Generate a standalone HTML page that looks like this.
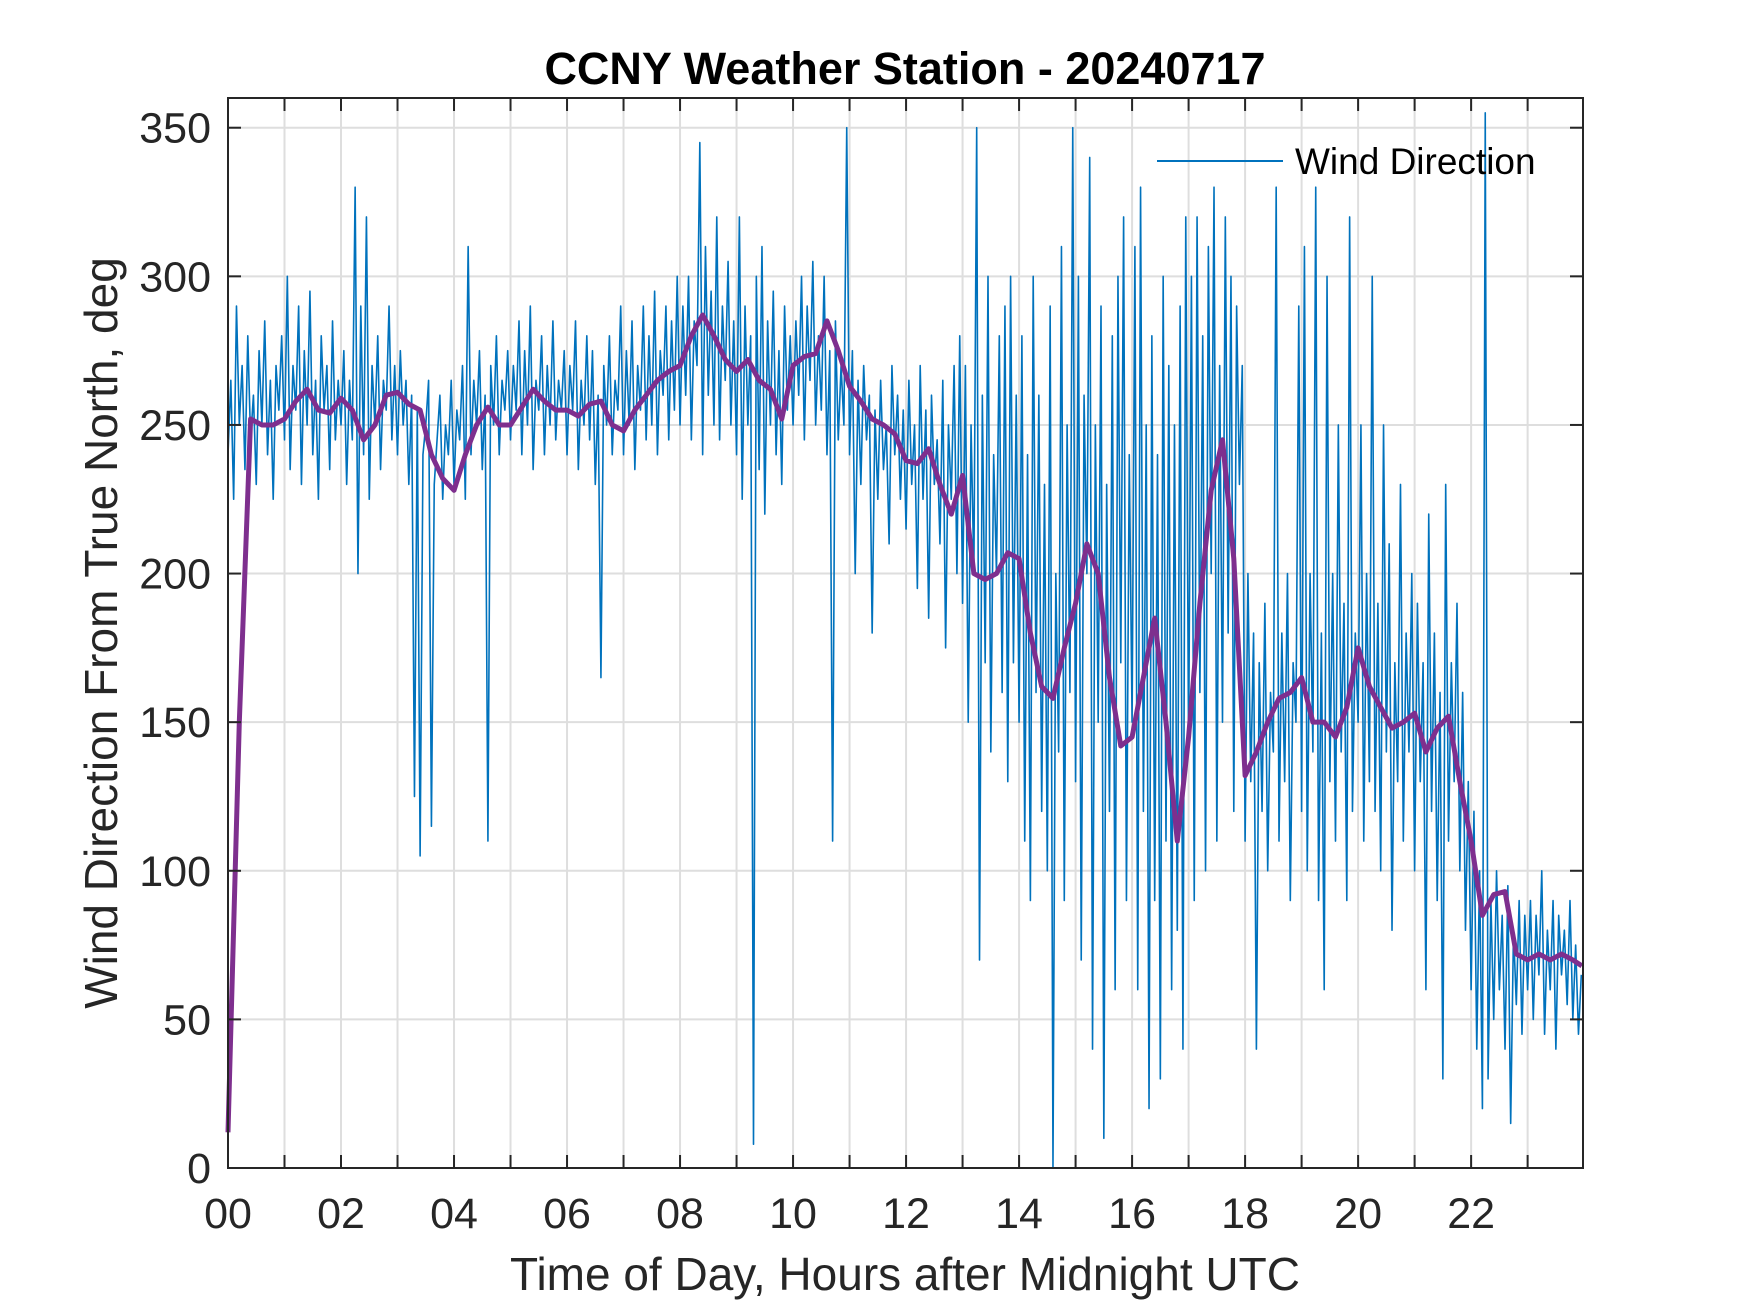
<!DOCTYPE html>
<html><head><meta charset="utf-8"><style>
html,body{margin:0;padding:0;background:#fff;}
svg{display:block;font-family:"Liberation Sans",Arial,sans-serif;}
</style></head><body>
<svg id="chart" width="1750" height="1313" viewBox="0 0 1750 1313" xmlns="http://www.w3.org/2000/svg">
<rect x="0" y="0" width="1750" height="1313" fill="#fff"/>
<g id="grid"></g>
<g id="series"></g>
<g id="axes"></g>
<text x="905" y="84" text-anchor="middle" font-size="45" font-weight="bold" fill="#000">CCNY Weather Station - 20240717</text>
<text x="905" y="1290" text-anchor="middle" font-size="46" fill="#262626">Time of Day, Hours after Midnight UTC</text>
<text transform="translate(117,633) rotate(-90)" text-anchor="middle" font-size="46" fill="#262626">Wind Direction From True North, deg</text>
<g>
<line x1="1157" y1="161" x2="1283" y2="161" stroke="#0072BD" stroke-width="2"/>
<text x="1295" y="174" font-size="37" fill="#000">Wind Direction</text>
</g>
</svg>
<script>
const windDir = [
240,265,225,290,250,270,235,280,245,260,230,275,250,285,240,265,225,270,255,280,
245,300,235,270,255,290,230,275,250,295,240,265,225,280,255,270,235,285,245,265,
250,275,230,265,245,330,200,290,240,320,225,270,250,280,235,265,255,290,245,270,
240,275,250,265,230,260,125,255,105,240,250,265,115,230,245,260,225,250,240,265,
230,255,245,270,225,310,240,265,250,275,235,260,110,270,250,280,240,265,255,275,
245,270,255,285,240,275,250,290,235,265,255,280,240,270,250,285,245,265,255,275,
240,270,255,285,235,265,250,280,245,275,230,260,165,270,250,280,240,265,255,290,
240,275,250,285,235,270,255,290,245,280,250,295,240,275,260,290,245,285,255,300,
250,290,260,300,245,285,270,345,240,310,260,295,250,320,245,290,265,305,250,285,
240,320,225,290,250,280,8,300,235,310,220,285,250,295,240,275,230,290,255,280,
250,285,260,300,245,290,265,305,250,280,255,300,240,275,110,285,245,270,250,350,
240,275,200,265,230,270,245,260,180,255,225,265,235,250,210,270,240,260,225,255,
215,265,230,250,195,270,225,255,185,260,230,245,210,265,175,250,225,270,200,280,
190,270,150,250,200,350,70,260,170,300,140,240,200,280,160,290,130,300,170,260,
150,280,110,240,90,300,160,260,120,230,100,290,0,200,140,310,90,250,160,350,
130,300,70,260,200,340,40,250,150,290,10,230,120,280,60,300,170,320,90,240,
150,310,60,330,120,250,20,280,90,240,30,300,110,270,60,250,80,290,40,320,
140,300,90,320,160,280,100,310,200,330,110,270,150,320,180,300,120,290,230,270,
110,200,130,180,40,170,120,190,100,160,140,330,110,180,130,200,90,170,150,290,
120,310,100,200,140,330,90,180,60,300,130,200,110,250,140,190,90,320,120,180,
150,250,110,200,130,300,120,190,100,250,140,210,80,170,130,230,110,180,140,200,
100,190,130,170,60,220,120,180,90,160,30,230,110,170,130,190,100,160,80,130,
60,120,40,100,20,355,30,90,50,100,60,85,40,95,15,80,55,90,45,85,
60,90,50,85,65,100,45,80,60,90,40,85,65,80,55,90,50,75,45,65
];
const windStepHours = 0.05;
const avgHours = [0,0.2,0.4,0.6,0.8,1.0,1.2,1.4,1.6,1.8,2.0,2.2,2.4,2.6,2.8,3.0,3.2,3.4,3.6,3.8,4.0,4.2,4.4,4.6,4.8,5.0,5.2,5.4,5.6,5.8,6.0,6.2,6.4,6.6,6.8,7.0,7.2,7.4,7.6,7.8,8.0,8.2,8.4,8.6,8.8,9.0,9.2,9.4,9.6,9.8,10.0,10.2,10.4,10.6,10.8,11.0,11.2,11.4,11.6,11.8,12.0,12.2,12.4,12.6,12.8,13.0,13.2,13.4,13.6,13.8,14.0,14.2,14.4,14.6,14.8,15.0,15.2,15.4,15.6,15.8,16.0,16.2,16.4,16.6,16.8,17.0,17.2,17.4,17.6,17.8,18.0,18.2,18.4,18.6,18.8,19.0,19.2,19.4,19.6,19.8,20.0,20.2,20.4,20.6,20.8,21.0,21.2,21.4,21.6,21.8,22.0,22.2,22.4,22.6,22.8,23.0,23.2,23.4,23.6,23.8,23.96];
const avgValues = [12,150,252,250,250,252,258,262,255,254,259,255,245,250,260,261,257,255,240,232,228,240,250,256,250,250,256,262,258,255,255,253,257,258,250,248,255,260,265,268,270,280,287,280,272,268,272,265,262,252,270,273,274,285,275,263,258,252,250,247,238,237,242,230,220,233,200,198,200,207,205,180,162,158,175,190,210,200,165,142,145,165,185,150,110,145,190,228,245,205,132,140,150,158,160,165,150,150,145,155,175,162,155,148,150,153,140,148,152,130,110,85,92,93,72,70,72,70,72,70,68];
const xTicks = [0,1,2,3,4,5,6,7,8,9,10,11,12,13,14,15,16,17,18,19,20,21,22,23];
const xTickLabels = ["00","","02","","04","","06","","08","","10","","12","","14","","16","","18","","20","","22",""];
const yTicks = [0,50,100,150,200,250,300,350];
const yTickLabels = ["0","50","100","150","200","250","300","350"];

const L=228,R=1583,T=98,B=1168,XMAX=23.98,YMAX=360;
const xs=h=>L+(h/XMAX)*(R-L);
const ys=v=>B-(v/YMAX)*(B-T);
const NS="http://www.w3.org/2000/svg";
function mk(tag,attrs,parent){const e=document.createElementNS(NS,tag);for(const k in attrs)e.setAttribute(k,attrs[k]);parent.appendChild(e);return e;}
const grid=document.getElementById('grid'),series=document.getElementById('series'),axes=document.getElementById('axes');
xTicks.forEach((t,i)=>{
  const g=mk('line',{x1:xs(t),x2:xs(t),y1:T,y2:B,stroke:'#dedede','stroke-width':2},grid);
  
  
  const a=mk('line',{x1:xs(t),x2:xs(t),y1:B,y2:B-13,stroke:'#262626','stroke-width':2},axes);
  
  
  const b=mk('line',{x1:xs(t),x2:xs(t),y1:T,y2:T+13,stroke:'#262626','stroke-width':2},axes);
  
  
  if(xTickLabels[i]){
    const tx=mk('text',{x:xs(t),y:1228,'text-anchor':'middle','font-size':43,fill:'#262626'},axes);
    tx.textContent=xTickLabels[i];
    
    
  }
});
yTicks.forEach((t,i)=>{
  const g=mk('line',{x1:L,x2:R,y1:ys(t),y2:ys(t),stroke:'#dedede','stroke-width':2},grid);
  
  
  const a=mk('line',{x1:L,x2:L+13,y1:ys(t),y2:ys(t),stroke:'#262626','stroke-width':2},axes);
  
  
  const b=mk('line',{x1:R,x2:R-13,y1:ys(t),y2:ys(t),stroke:'#262626','stroke-width':2},axes);
  
  
  const tx=mk('text',{x:211,y:ys(t)+15,'text-anchor':'end','font-size':43,fill:'#262626'},axes);
  tx.textContent=yTickLabels[i];
  
  
});
const frame=mk('rect',{x:L,y:T,width:R-L,height:B-T,fill:'none',stroke:'#262626','stroke-width':2},axes);


const wp=mk('polyline',{points:windDir.map((v,i)=>xs(i*windStepHours)+','+ys(v)).join(' '),fill:'none',stroke:'#0072BD','stroke-width':1.6,'stroke-linejoin':'round'},series);


const ap=mk('polyline',{points:avgValues.map((v,i)=>xs(avgHours[i])+','+ys(v)).join(' '),fill:'none',stroke:'#7E2F8E','stroke-width':5,'stroke-linejoin':'round'},series);


</script>
</body></html>
